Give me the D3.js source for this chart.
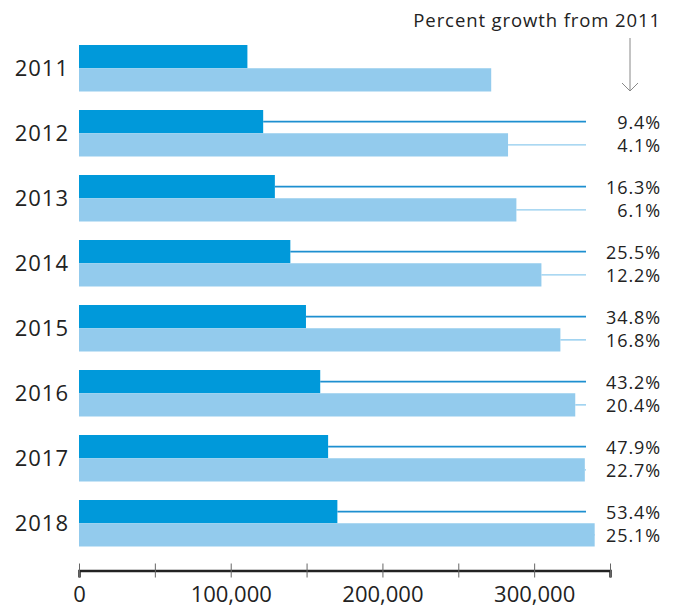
<!DOCTYPE html>
<html>
<head>
<meta charset="utf-8">
<script src="https://cdn.jsdelivr.net/npm/d3@7/dist/d3.min.js"></script>
<style>
  html, body { margin: 0; padding: 0; background: #fff; }
  svg { display: block; font-family: "Open Sans", Lato, sans-serif; }
</style>
</head>
<body>
<svg id="chart" width="678" height="607"></svg>
<script>
const years = ["2011", "2012", "2013", "2014", "2015", "2016", "2017", "2018"];
const seriesA = [111000, 121400, 129100, 139300, 149600, 159000, 164200, 170300];
const seriesB = [271700, 282800, 288300, 304800, 317300, 327100, 333400, 339900];
const growthA = [null, "9.4%", "16.3%", "25.5%", "34.8%", "43.2%", "47.9%", "53.4%"];
const growthB = [null, "4.1%", "6.1%", "12.2%", "16.8%", "20.4%", "22.7%", "25.1%"];
const tickValues = [0, 50000, 100000, 150000, 200000, 250000, 300000, 350000];
const tickLabels = ["0", "", "100,000", "", "200,000", "", "300,000", ""];
const titleText = "Percent growth from 2011";

const colorA = "#0099DA";
const colorB = "#93CBED";
const lineA = "#1E8FD0";
const lineB = "#8FCBEE";
const textColor = "#222";
const fontFam = "'Open Sans', Lato, sans-serif";

const svg = d3.select("#chart");
const x = d3.scaleLinear().domain([0, 350000]).range([79, 610]);
const y = d3.scaleBand().domain(years).range([45, 546.5]).paddingInner(0.2846).paddingOuter(0);
const bw = y.bandwidth();
const half = bw / 2;
const lineEnd = 586;
const labelX = 661;

const rows = years.map((yr, i) => ({ yr, a: seriesA[i], b: seriesB[i], ga: growthA[i], gb: growthB[i] }));

// leader lines (drawn first, bars cover them)
const g = svg.append("g");
rows.forEach(d => {
  if (d.ga) {
    g.append("line")
      .attr("x1", x(d.a)).attr("x2", lineEnd)
      .attr("y1", y(d.yr) + half / 2).attr("y2", y(d.yr) + half / 2)
      .attr("stroke", lineA).attr("stroke-width", 1.6);
    g.append("line")
      .attr("x1", x(d.b)).attr("x2", lineEnd)
      .attr("y1", y(d.yr) + half * 1.5).attr("y2", y(d.yr) + half * 1.5)
      .attr("stroke", lineB).attr("stroke-width", 1.4);
  }
});

// bars
g.selectAll("rect.a").data(rows).join("rect")
  .attr("class", "a")
  .attr("x", x(0)).attr("y", d => y(d.yr))
  .attr("width", d => x(d.a) - x(0)).attr("height", half)
  .attr("fill", colorA);
g.selectAll("rect.b").data(rows).join("rect")
  .attr("class", "b")
  .attr("x", x(0)).attr("y", d => y(d.yr) + half)
  .attr("width", d => x(d.b) - x(0)).attr("height", half)
  .attr("fill", colorB);

// year labels
g.selectAll("text.yr").data(rows).join("text")
  .attr("class", "yr")
  .attr("x", 69).attr("y", d => y(d.yr) + bw / 2 + 8)
  .attr("text-anchor", "end")
  .attr("font-size", 22)
  .attr("letter-spacing", 1)
  .attr("fill", textColor)
  .text(d => d.yr);

// growth labels
rows.filter(d => d.ga).forEach(d => {
  g.append("text")
    .attr("x", labelX).attr("y", y(d.yr) + half / 2 + 7)
    .attr("text-anchor", "end").attr("font-size", 18).attr("letter-spacing", 0.9).attr("fill", textColor)
    .text(d.ga);
  g.append("text")
    .attr("x", labelX).attr("y", y(d.yr) + half * 1.5 + 7)
    .attr("text-anchor", "end").attr("font-size", 18).attr("letter-spacing", 0.9).attr("fill", textColor)
    .text(d.gb);
});

// title and arrow
svg.append("text")
  .attr("x", labelX).attr("y", 27)
  .attr("text-anchor", "end").attr("font-size", 18.5).attr("letter-spacing", 0.9).attr("fill", textColor)
  .text(titleText);
const ax = 630;
svg.append("line").attr("x1", ax).attr("x2", ax).attr("y1", 38).attr("y2", 91)
  .attr("stroke", "#888").attr("stroke-width", 1);
svg.append("path").attr("d", `M${ax - 8},83 L${ax},91 L${ax + 8},83`)
  .attr("fill", "none").attr("stroke", "#888").attr("stroke-width", 1);

// x axis
const axis = d3.axisBottom(x).tickValues(tickValues)
  .tickFormat((v, i) => tickLabels[i]).tickSizeOuter(0).tickSize(7);
const axG = svg.append("g").attr("transform", "translate(0,570.5)").call(axis);
axG.select(".domain").attr("stroke", "#222").attr("stroke-width", 2.5);
axG.selectAll(".tick line").attr("y1", -7).attr("y2", 7).attr("stroke", "#666").attr("stroke-width", 1);
axG.selectAll(".tick text")
  .attr("y", 31).attr("dy", null)
  .attr("font-size", 22).attr("font-family", fontFam)
  .attr("fill", textColor);
</script>
</body>
</html>
